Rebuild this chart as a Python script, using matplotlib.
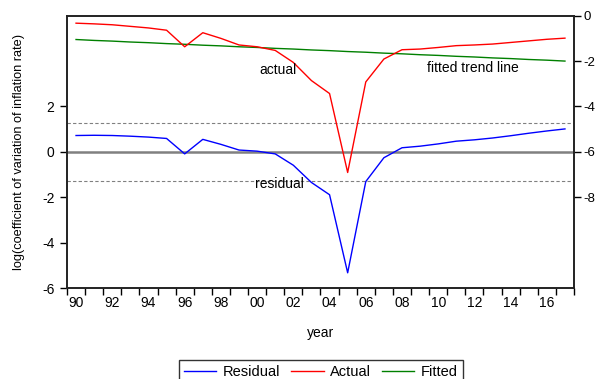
import numpy as np
import matplotlib
matplotlib.use("Agg")
import matplotlib.pyplot as plt
from matplotlib.lines import Line2D

plt.rcParams["font.family"] = ["Liberation Sans", "DejaVu Sans"]
plt.rcParams["axes.unicode_minus"] = False

# ---------------------------------------------------------------------------
# Data
# ---------------------------------------------------------------------------
years = list(range(1990, 2018))
year_labels = ["90", "92", "94", "96", "98", "00", "02", "04",
               "06", "08", "10", "12", "14", "16"]

actual = [-0.33, -0.36, -0.40, -0.47, -0.54, -0.64, -1.37, -0.75, -1.00, -1.29,
          -1.37, -1.53, -2.06, -2.86, -3.43, -6.91, -2.92, -1.91, -1.50, -1.47,
          -1.40, -1.32, -1.29, -1.25, -1.18, -1.11, -1.04, -0.99]

fitted = [-1.05, -1.09, -1.12, -1.16, -1.19, -1.23, -1.26, -1.30, -1.33, -1.37,
          -1.40, -1.44, -1.47, -1.51, -1.54, -1.58, -1.61, -1.65, -1.68, -1.72,
          -1.75, -1.79, -1.82, -1.86, -1.89, -1.93, -1.96, -2.00]

residual = [0.72, 0.73, 0.72, 0.69, 0.65, 0.59, -0.09, 0.55, 0.33, 0.08,
            0.03, -0.09, -0.59, -1.35, -1.89, -5.33, -1.31, -0.26, 0.18, 0.25,
            0.35, 0.47, 0.53, 0.61, 0.71, 0.82, 0.92, 1.01]

resid_band = 1.28  # +/- 1 std. error band of the residuals

left_ticks = [-6, -4, -2, 0, 2]
right_ticks = [-8, -6, -4, -2, 0]

# ---------------------------------------------------------------------------
# Plot
# ---------------------------------------------------------------------------
fig = plt.figure(figsize=(5.97, 3.79), dpi=100)
ax = fig.add_axes([0.1122, 0.2401, 0.8493, 0.7185])
ax2 = ax.twinx()

x = np.arange(len(years))

# reference lines on the residual scale
ax.axhline(0, color="#808080", linewidth=1.8, zorder=1)
ax.axhline(resid_band, color="#808080", linewidth=0.8, linestyle=(0, (3, 2)), zorder=1)
ax.axhline(-resid_band, color="#808080", linewidth=0.8, linestyle=(0, (3, 2)), zorder=1)

ax.plot(x, residual, color="blue", linewidth=1.0, zorder=3)
ax2.plot(x, actual, color="red", linewidth=1.0, zorder=3)
ax2.plot(x, fitted, color="green", linewidth=1.0, zorder=2)

ax.set_xlim(-0.5, len(years) - 0.5)
ax.set_ylim(-6, 6)
ax2.set_ylim(-12, 0)

# x ticks at year boundaries, labels centred on the even years
ax.set_xticks(np.arange(-0.5, len(years), 1.0))
ax.set_xticklabels([])
ax.set_xticks(x[::2], minor=True)
ax.set_xticklabels(year_labels, minor=True)
ax.tick_params(axis="x", which="major", direction="out", length=5, width=1)
ax.tick_params(axis="x", which="minor", length=0, pad=6, labelsize=10)

ax.set_yticks(left_ticks)
ax.set_yticklabels([str(t) for t in left_ticks])
ax.tick_params(axis="y", direction="out", length=5, width=1, labelsize=10, pad=4)
ax2.set_yticks(right_ticks)
ax2.set_yticklabels([str(t) for t in right_ticks])
ax2.tick_params(axis="y", direction="out", length=5, width=1, labelsize=9.5, pad=2)

for a in (ax, ax2):
    for side in a.spines.values():
        side.set_linewidth(1.2)
        side.set_color("#222222")

ax.set_xlabel("year", fontsize=10, labelpad=11)
ax.set_ylabel("log(coefficient of variation of inflation rate)", fontsize=9.2, labelpad=12)

# annotations
ax2.text(10.15, -2.4, "actual", fontsize=10, ha="left", va="center")
ax2.text(19.4, -2.3, "fitted trend line", fontsize=10, ha="left", va="center")
ax.text(9.9, -1.4, "residual", fontsize=10, ha="left", va="center")

handles = [Line2D([], [], color="blue", linewidth=1.0),
           Line2D([], [], color="red", linewidth=1.0),
           Line2D([], [], color="green", linewidth=1.0)]
leg = fig.legend(handles, ["Residual", "Actual", "Fitted"], loc="upper center",
                 bbox_to_anchor=(0.5377, 0.0501), ncol=3, fontsize=10.5,
                 frameon=True, fancybox=False, handlelength=2.2,
                 handletextpad=0.45, columnspacing=0.75, borderpad=0.35,
                 borderaxespad=0.0)
leg.get_frame().set_edgecolor("black")
leg.get_frame().set_linewidth(1.0)

fig.savefig("out.png", dpi=100)
